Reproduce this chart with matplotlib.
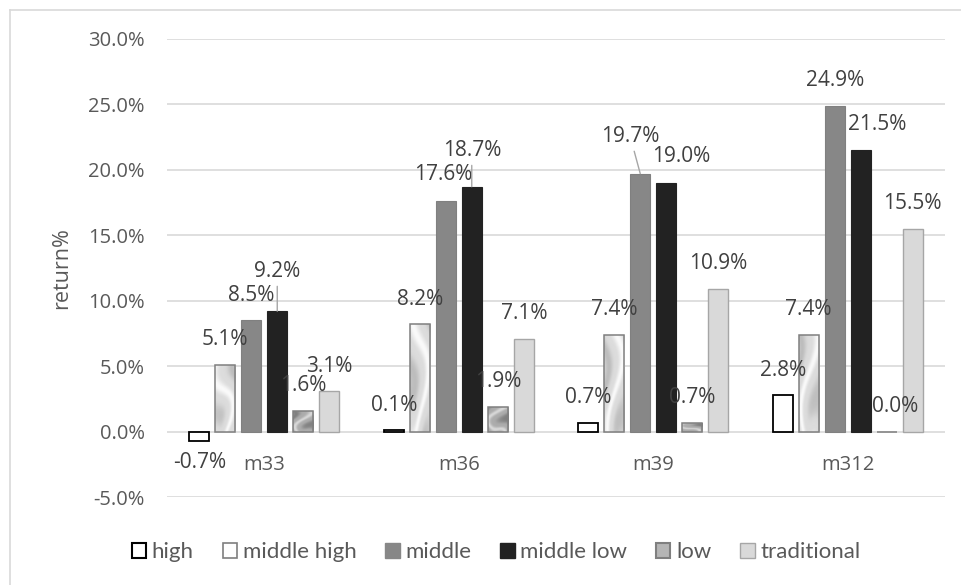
import numpy as np
import matplotlib
matplotlib.use("Agg")
import matplotlib.pyplot as plt
from matplotlib.patches import Patch
from matplotlib.lines import Line2D
from matplotlib.ticker import FuncFormatter

# returns (%) per horizon, one list per group
categories = ["m33", "m36", "m39", "m312"]
series_names = ["high", "middle high", "middle", "middle low", "low", "traditional"]
high = [-0.7, 0.1, 0.7, 2.8]
middle_high = [5.1, 8.2, 7.4, 7.4]
middle = [8.5, 17.6, 19.7, 24.9]
middle_low = [9.2, 18.7, 19.0, 21.5]
low = [1.6, 1.9, 0.7, 0.0]
traditional = [3.1, 7.1, 10.9, 15.5]
series = [high, middle_high, middle, middle_low, low, traditional]

# bar styling: facecolor, edgecolor, linewidth, textured?
styles = [
    ("white", "black", 1.3, False),
    ("white", "#7f7f7f", 1.1, True),
    ("#878787", "#808080", 0.8, False),
    ("#222222", "#222222", 0.8, False),
    ("#9a9a9a", "#7f7f7f", 1.1, True),
    ("#d9d9d9", "#a6a6a6", 1.0, False),
]
# manual nudges for crowded data labels (pixels, dy up, leader line)
label_nudge = {
    (3, 0): (0, 39.5, True),
    (2, 1): (-2.5, 27, False),
    (3, 1): (0, 36, True),
    (2, 2): (-10, 37, True),
    (3, 2): (15, 26, False),
    (3, 3): (16, 26, False),
    (4, 3): (8, 25, False),
}

LABEL_FONT = ["Open Sans", "DejaVu Sans"]
GRAY = "#595959"


def marble(nx, ny, lo, hi, phase):
    # soft cloudy gray texture for the patterned bars
    x = np.linspace(0, 1, nx)
    y = np.linspace(0, 3, ny)
    X, Y = np.meshgrid(x, y)
    z = np.sin(3.5 * X + 1.6 * np.sin(1.7 * Y + phase) + 0.8 * np.cos(2.2 * X * Y + phase))
    z = np.clip(z, -1, 1) ** 3
    return lo + (hi - lo) * (z + 1) / 2


fig = plt.figure(figsize=(9.61, 5.85), dpi=100)
ax = fig.add_axes([167 / 961, 1 - 497.2 / 585, 778 / 961, 458.5 / 585])

x = np.arange(len(categories))
step = 0.1337
width = 0.105

for k, (vals, (fc, ec, lw, tex)) in enumerate(zip(series, styles)):
    xs = x + (k - 2.5) * step
    bars = ax.bar(xs, vals, width, color=fc, edgecolor=ec, linewidth=lw, zorder=3)
    if tex:
        lo, hi = (0.74, 0.98) if k == 1 else (0.5, 0.85)
        for j, b in enumerate(bars):
            if b.get_height() == 0:
                continue
            x0 = b.get_x()
            y0, y1 = sorted([b.get_y(), b.get_y() + b.get_height()])
            im = ax.imshow(marble(20, 80, lo, hi, j + k), extent=[x0, x0 + width, y0, y1],
                           aspect="auto", cmap="gray", vmin=0, vmax=1, zorder=2.9,
                           interpolation="bilinear")
            im.set_clip_path(b)
            b.set_facecolor("none")
    for j, v in enumerate(vals):
        dx, dy, lead = label_nudge.get((k, j), (0, 25, False))
        if v < 0:
            dy = -22
        arrow = dict(arrowstyle="-", color="#a6a6a6", lw=1.0, shrinkA=1, shrinkB=0) if lead else None
        ax.annotate(f"{v:.1f}%", xy=(xs[j], v), xytext=(dx, dy), textcoords="offset pixels",
                    ha="center", va="center", fontsize=15, color="#404040",
                    family=LABEL_FONT, arrowprops=arrow, zorder=5)

# category names sit just under the zero line
for i, c in enumerate(categories):
    ax.annotate(c, xy=(i, 0), xytext=(0, -33), textcoords="offset pixels",
                ha="center", va="center", fontsize=14.5, color=GRAY, family=LABEL_FONT)

ax.set_xlim(-0.5, 3.5)
ax.set_ylim(-5, 30)
ax.set_yticks(np.arange(-5, 31, 5))
ax.yaxis.set_major_formatter(FuncFormatter(lambda v, _: f"{v:.1f}%"))
ax.set_xticks([])
ax.tick_params(axis="y", length=0, pad=16, labelcolor=GRAY, labelsize=14.5)
for t in ax.get_yticklabels():
    t.set_family(LABEL_FONT)
ax.grid(axis="y", color="#d9d9d9", linewidth=1.2, zorder=0)
for s in ax.spines.values():
    s.set_visible(False)

ax.set_ylabel("return%", fontsize=15.5, color=GRAY, family=LABEL_FONT)
ax.yaxis.label.set_va("center")
ax.yaxis.set_label_coords((62 - 167) / 778, 0.5)

handles = [
    Patch(facecolor="white", edgecolor="black", linewidth=1.5),
    Patch(facecolor="white", edgecolor="#7f7f7f", linewidth=1.2),
    Patch(facecolor="#878787", edgecolor="#878787"),
    Patch(facecolor="#222222", edgecolor="#222222"),
    Patch(facecolor="#b5b5b5", edgecolor="#7f7f7f", linewidth=1.5),
    Patch(facecolor="#d9d9d9", edgecolor="#a6a6a6", linewidth=1.0),
]
leg = fig.legend(handles, series_names, loc="center", bbox_to_anchor=(496 / 961, 1 - 552 / 585),
                 ncol=6, frameon=False, handlelength=0.65, handleheight=0.65,
                 handletextpad=0.25, columnspacing=1.3,
                 prop={"family": ["Lato", "DejaVu Sans"], "size": 16})
for t in leg.get_texts():
    t.set_color(GRAY)

# light frame around the chart area
fig.add_artist(Line2D([9.5 / 961, 9.5 / 961], [0, 1 - 10 / 585], color="#d9d9d9", lw=1.2))
fig.add_artist(Line2D([9.5 / 961, 1], [1 - 10 / 585, 1 - 10 / 585], color="#d9d9d9", lw=1.2))

fig.savefig("out.png", dpi=100)
